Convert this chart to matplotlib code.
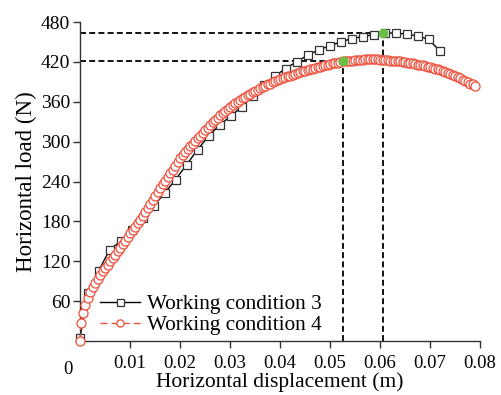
import matplotlib
matplotlib.use("Agg")
import matplotlib.pyplot as plt

plt.rcParams['font.family'] = ['Liberation Serif', 'DejaVu Serif']

# Working condition 3 (squares)
x3 = [0.0000, 0.0015, 0.0037, 0.0059, 0.0081, 0.0103, 0.0125, 0.0147, 0.0169,
      0.0191, 0.0213, 0.0235, 0.0257, 0.0279, 0.0301, 0.0323, 0.0345, 0.0367,
      0.0389, 0.0411, 0.0433, 0.0455, 0.0477, 0.0499, 0.0521, 0.0543, 0.0565,
      0.0587, 0.0609, 0.0631, 0.0653, 0.0675, 0.0697, 0.0719]
y3 = [5, 72, 105, 137, 150, 167, 185, 203, 222,
      243, 265, 288, 308, 325, 338, 352, 368, 385,
      398, 410, 420, 430, 438, 444, 450, 455, 458,
      461, 464, 463, 462, 459, 454, 437]

# Working condition 4 (circles)
x4 = [0.0000, 0.0002, 0.0005, 0.0010, 0.0015, 0.0020, 0.0025, 0.0030, 0.0035, 0.0040,
      0.0045, 0.0050, 0.0055, 0.0060, 0.0065, 0.0070, 0.0075, 0.0080, 0.0085, 0.0090,
      0.0095, 0.0100, 0.0105, 0.0110, 0.0115, 0.0120, 0.0125, 0.0130, 0.0135, 0.0140,
      0.0145, 0.0150, 0.0155, 0.0160, 0.0165, 0.0170, 0.0175, 0.0180, 0.0185, 0.0190,
      0.0195, 0.0200, 0.0205, 0.0210, 0.0215, 0.0220, 0.0225, 0.0230, 0.0235, 0.0240,
      0.0245, 0.0250, 0.0255, 0.0260, 0.0265, 0.0270, 0.0275, 0.0280, 0.0285, 0.0290,
      0.0295, 0.0300, 0.0305, 0.0310, 0.0315, 0.0320, 0.0325, 0.0330, 0.0335, 0.0340,
      0.0345, 0.0350, 0.0355, 0.0360, 0.0365, 0.0370, 0.0375, 0.0380, 0.0385, 0.0390,
      0.0395, 0.0400, 0.0405, 0.0410, 0.0415, 0.0420, 0.0425, 0.0430, 0.0435, 0.0440,
      0.0445, 0.0450, 0.0455, 0.0460, 0.0465, 0.0470, 0.0475, 0.0480, 0.0485, 0.0490,
      0.0495, 0.0500, 0.0505, 0.0510, 0.0515, 0.0520, 0.0525, 0.0530, 0.0535, 0.0540,
      0.0545, 0.0550, 0.0555, 0.0560, 0.0565, 0.0570, 0.0575, 0.0580, 0.0585, 0.0590,
      0.0595, 0.0600, 0.0605, 0.0610, 0.0615, 0.0620, 0.0625, 0.0630, 0.0635, 0.0640,
      0.0645, 0.0650, 0.0655, 0.0660, 0.0665, 0.0670, 0.0675, 0.0680, 0.0685, 0.0690,
      0.0695, 0.0700, 0.0705, 0.0710, 0.0715, 0.0720, 0.0725, 0.0730, 0.0735, 0.0740,
      0.0745, 0.0750, 0.0755, 0.0760, 0.0765, 0.0770, 0.0775, 0.0780, 0.0785, 0.0790]
y4 = [0, 27, 42, 54, 64, 73, 81, 88, 94, 100,
      105, 110, 115, 120, 125, 130, 135, 140, 146, 151,
      156, 162, 167, 172, 177, 182, 188, 194, 200, 206,
      212, 218, 224, 230, 236, 241, 247, 253, 258, 264,
      270, 275, 280, 285, 289, 293, 297, 301, 305, 309,
      313, 317, 321, 325, 329, 333, 336, 340, 343, 346,
      349, 352, 355, 358, 360, 363, 365, 367, 370, 372,
      374, 376, 378, 380, 382, 384, 386, 387, 389, 391,
      392, 394, 395, 397, 398, 399, 401, 402, 403, 405,
      406, 407, 408, 409, 410, 411, 412, 413, 414, 415,
      416, 417, 418, 419, 419, 420, 421, 421, 422, 422,
      422, 423, 423, 423, 423, 424, 424, 424, 424, 424,
      424, 423, 423, 423, 423, 422, 422, 421, 421, 421,
      420, 420, 419, 419, 418, 417, 416, 416, 415, 414,
      413, 412, 411, 410, 409, 408, 407, 405, 404, 402,
      400, 399, 397, 395, 393, 391, 389, 387, 386, 384]

# peak points marked in green
peak_x = [0.0525, 0.0605]
peak_y = [421, 464]

xticks = [0.01, 0.02, 0.03, 0.04, 0.05, 0.06, 0.07, 0.08]
xtick_labels = ['0.01', '0.02', '0.03', '0.04', '0.05', '0.06', '0.07', '0.08']
yticks = [60, 120, 180, 240, 300, 360, 420, 480]

red = '#f04e3a'

fig = plt.figure(figsize=(5.01, 3.95), dpi=100)
ax = fig.add_axes([0.1597, 0.1367, 0.7984, 0.8076])

# dashed guide lines
dash = (0, (3.3, 1.8))
for px, py in zip(peak_x, peak_y):
    ax.plot([0, px], [py, py], color='black', lw=1.3, ls=dash, zorder=1)
    ax.plot([px, px], [0, py], color='black', lw=1.3, ls=dash, zorder=1)

ax.plot(x3, y3, color='black', lw=1.0, marker='s', markersize=6.3,
        markerfacecolor='white', markeredgecolor='#333333', markeredgewidth=0.9,
        label='Working condition 3', zorder=2, clip_on=False)
ax.plot(x4, y4, color=red, lw=1.0, ls=(0, (5, 3)), marker='o', markersize=6.5,
        markerfacecolor='white', markeredgecolor=red, markeredgewidth=0.9,
        label='Working condition 4', zorder=3, clip_on=False)
ax.plot(peak_x, peak_y, ls='none', marker='o', markersize=6, color='#6abf45',
        zorder=4, clip_on=False)

ax.set_xlim(0, 0.08)
ax.set_ylim(0, 480)
ax.set_xticks(xticks)
ax.set_xticklabels(xtick_labels)
ax.set_yticks(yticks)

for s in ['top', 'right']:
    ax.spines[s].set_visible(False)
for s in ['left', 'bottom']:
    ax.spines[s].set_color('#333333')
    ax.spines[s].set_linewidth(1.0)

ax.tick_params(axis='both', direction='out', length=5, width=1.0,
               color='#333333', labelsize=14)
ax.tick_params(axis='x', pad=5, labelsize=13.5)
ax.tick_params(axis='y', pad=2)

# origin label
ax.annotate('0', xy=(0, 0), xytext=(-12, -28), textcoords='offset pixels',
            ha='center', va='center', fontsize=13.5, annotation_clip=False)

ax.set_xlabel('Horizontal displacement (m)', fontsize=15.5, labelpad=0)
ax.set_ylabel('Horizontal load (N)', fontsize=16.5, labelpad=3)

ax.legend(loc='lower left', bbox_to_anchor=(0.012, -0.028), frameon=False,
          fontsize=15.3, handlelength=1.9, handletextpad=0.35, markerscale=0.8,
          labelspacing=0.05, borderaxespad=0.3)

fig.savefig('out.png', dpi=100)
